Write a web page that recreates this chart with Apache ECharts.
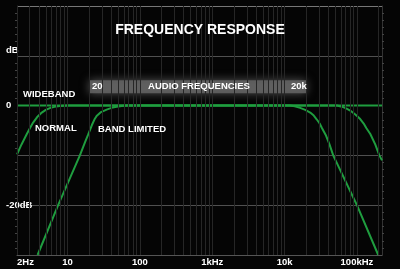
<!DOCTYPE html>
<html>
<head>
<meta charset="utf-8">
<script src="https://cdn.jsdelivr.net/npm/echarts@6/dist/echarts.min.js"></script>
<style>
html,body{margin:0;padding:0;background:#050505;}
#chart{width:400px;height:269px;}
</style>
</head>
<body>
<div id="chart"></div>
<script>
// ---- data ----
var xMin = 2, xMax = 222000;
var yMin = -30, yMax = 20;
var xTickValues = [2, 10, 100, 1000, 10000, 100000];
var xTickLabels = ['2Hz', '10', '100', '1kHz', '10k', '100kHz'];
var yTickValues = [10, 0, -20];
var yTickLabels = ['dB', '0', '-20dB'];
var gridFreqs = [2,3,4,5,6,7,8,9,10,20,30,40,50,60,70,80,90,100,200,300,400,500,600,700,800,900,
  1000,2000,3000,4000,5000,6000,7000,8000,9000,10000,20000,30000,40000,50000,60000,70000,80000,90000,
  100000,200000];
var audioBand = [20, 20000];       // Hz
var audioBandDb = [2.5, 5.1];      // dB
var wideband = [[2, 0], [222000, 0]];
var normal = [[2, -9.8], [2.31, -7.8], [2.71, -5.8], [3.0, -4.6], [3.34, -3.4], [3.8, -2.3], [4.4, -1.4], [5.0, -0.85], [5.7, -0.5], [6.6, -0.25], [7.8, -0.1], [9, -0.03], [10, 0],
  [52900, 0], [58000, -0.12], [64600, -0.3], [72000, -0.6], [80700, -1.0], [95000, -1.8], [111000, -2.7], [124000, -3.6], [134600, -4.5], [153000, -5.7], [179000, -7.8], [204000, -10], [222000, -11]];
var bandLimited = [[3.85, -30], [7.41, -20], [14.8, -10], [17.5, -7.3], [19.3, -5.8], [21.7, -3.9], [23.5, -2.8], [25.2, -2.1], [29, -1.3], [34.7, -0.8], [40.5, -0.45], [47.6, -0.25], [56, -0.08], [65.6, 0],
  [11900, 0], [13800, -0.15], [16400, -0.45], [19300, -0.85], [22600, -1.4], [25300, -2.0], [27900, -2.8], [30500, -3.6], [32800, -4.5], [37000, -5.9], [41500, -7.7], [47000, -10], [100000, -20], [197000, -30]];

var FONT = 'Liberation Sans, Arial, Helvetica, sans-serif';
var GREEN = '#1f9d3f';

function findLabel(values, labels, v, log) {
  for (var i = 0; i < values.length; i++) {
    var d = log ? Math.abs(Math.log10(v) - Math.log10(values[i])) : Math.abs(v - values[i]);
    if (d < 0.01) return labels[i];
  }
  return '';
}

var chart = echarts.init(document.getElementById('chart'), null, {renderer: 'canvas'});
chart.setOption({
  backgroundColor: '#050505',
  animation: false,
  title: {
    text: 'FREQUENCY RESPONSE',
    left: 'center',
    top: 23,
    padding: 0,
    textStyle: {color: '#fff', fontSize: 14, fontWeight: 'bold', fontFamily: FONT}
  },
  grid: {left: 17, right: 18, top: 6, bottom: 14, containLabel: false, outerBoundsMode: 'none'},
  xAxis: {
    type: 'log',
    logBase: 10,
    min: xMin,
    max: xMax,
    axisLine: {show: true, onZero: false, lineStyle: {color: '#555', width: 1}},
    axisTick: {show: false},
    splitLine: {show: false},
    axisLabel: {
      color: '#fff', fontSize: 9.5, fontWeight: 'bold', fontFamily: FONT, margin: 2,
      alignMinLabel: 'left', showMinLabel: true, showMaxLabel: true, hideOverlap: false,
      formatter: function (v) { return findLabel(xTickValues, xTickLabels, v, true); }
    }
  },
  yAxis: [{
    type: 'value',
    min: yMin, max: yMax, interval: 10,
    axisLine: {show: true, onZero: false, lineStyle: {color: '#333'}},
    axisTick: {show: false},
    minorTick: {show: true, splitNumber: 7, length: 2, lineStyle: {color: '#444'}},
    splitLine: {show: true, lineStyle: {color: ['#505050', '#505050', '#505050', '#505050', '#505050', '#777'], width: 1}},
    axisLabel: {
      align: 'left', margin: 11,
      color: '#fff', fontSize: 9.5, fontWeight: 'bold', fontFamily: FONT,
      formatter: function (v) {
        var t = findLabel(yTickValues, yTickLabels, v, false);
        if (t === 'dB') return '{up|dB}';
        return t;
      },
      rich: {up: {color: '#fff', fontSize: 9.5, fontWeight: 'bold', fontFamily: FONT, padding: [0, 0, 10, 0]}}
    }
  }, {
    type: 'value', position: 'right',
    min: yMin, max: yMax, interval: 10,
    axisLine: {show: true, onZero: false, lineStyle: {color: '#333'}},
    axisTick: {show: false},
    minorTick: {show: true, splitNumber: 7, length: 2, lineStyle: {color: '#444'}},
    splitLine: {show: false},
    axisLabel: {show: false}
  }],
  graphic: [
    {type: 'text', z: 100, style: {text: 'WIDEBAND', x: 23, y: 94, textVerticalAlign: 'middle', fill: '#fff', font: 'bold 9.5px ' + FONT}},
    {type: 'text', z: 100, style: {text: 'NORMAL', x: 35, y: 128.5, textVerticalAlign: 'middle', fill: '#fff', font: 'bold 9.5px ' + FONT}},
    {type: 'text', z: 100, style: {text: 'BAND LIMITED', x: 98, y: 129.5, textVerticalAlign: 'middle', fill: '#fff', font: 'bold 9.5px ' + FONT}},
    {type: 'text', z: 100, style: {text: '20', x: 92, y: 86, textVerticalAlign: 'middle', fill: '#fff', font: 'bold 9.5px ' + FONT}},
    {type: 'text', z: 100, style: {text: 'AUDIO FREQUENCIES', x: 199, y: 86, textAlign: 'center', textVerticalAlign: 'middle', fill: '#fff', font: 'bold 9.5px ' + FONT}},
    {type: 'text', z: 100, style: {text: '20k', x: 291, y: 86, textVerticalAlign: 'middle', fill: '#fff', font: 'bold 9.5px ' + FONT}}
  ],
  series: [
    {
      name: 'grid', type: 'line', data: [], z: 1, silent: true,
      markLine: {
        silent: true, symbol: 'none', animation: false,
        label: {show: false},
        lineStyle: {color: '#262626', width: 1, type: 'solid'},
        emphasis: {disabled: true},
        data: gridFreqs.map(function (f) { return {xAxis: f}; })
      }
    },
    {
      name: 'audio', type: 'line', data: [], z: 2, silent: true,
      markArea: {
        silent: true,
        itemStyle: {color: 'rgba(100,100,100,0.85)', shadowBlur: 10, shadowColor: 'rgba(100,100,100,1)'},
        emphasis: {disabled: true},
        data: [[{xAxis: audioBand[0], yAxis: audioBandDb[0]}, {xAxis: audioBand[1], yAxis: audioBandDb[1]}]]
      }
    },
    {name: 'Band limited', type: 'line', data: bandLimited, z: 3, showSymbol: false, smooth: false,
      lineStyle: {color: GREEN, width: 2}, silent: true},
    {name: 'Normal', type: 'line', data: normal, z: 3, showSymbol: false, smooth: false,
      lineStyle: {color: GREEN, width: 2}, silent: true},
    {name: 'Wideband', type: 'line', data: wideband, z: 4, showSymbol: false,
      lineStyle: {color: GREEN, width: 2}, silent: true}
  ]
});
</script>
</body>
</html>
